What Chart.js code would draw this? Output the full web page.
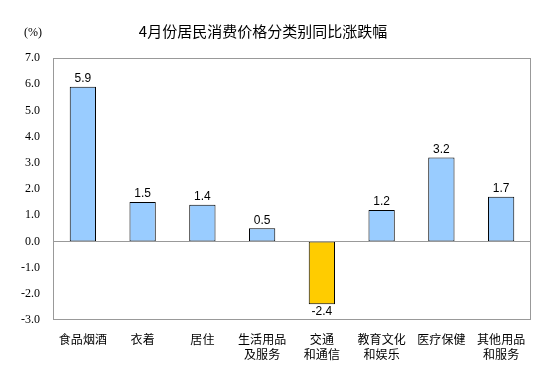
<!DOCTYPE html>
<html lang="zh">
<head>
    <meta charset="UTF-8">
    <title>4月份居民消费价格分类别同比涨跌幅</title>
    <script src="https://cdn.jsdelivr.net/npm/chart.js"></script>
    <style>
        html, body { margin: 0; padding: 0; background: #fff; }
        #wrap { width: 553px; height: 384px; position: relative; }
    </style>
</head>
<body>
    <div id="wrap"><canvas id="cpiChart"></canvas></div>

    <script>
        // Chart data
        const categories = [
            '食品烟酒', '衣着', '居住', ['生活用品', '及服务'],
            ['交通', '和通信'], ['教育文化', '和娱乐'], '医疗保健', ['其他用品', '和服务']
        ];
        const changes = [5.9, 1.5, 1.4, 0.5, -2.4, 1.2, 3.2, 1.7];
        const yTicks = [-3, -2, -1, 0, 1, 2, 3, 4, 5, 6, 7];

        const chartTitle = '4月份居民消费价格分类别同比涨跌幅';
        const unitLabel = '(%)';

        const cjkFont = '"Noto Sans CJK SC", "Noto Sans", sans-serif';
        const axisGray = '#999999';

        // title, unit, frame and value labels
        const decorations = {
            id: 'decorations',
            afterDatasetsDraw(chart) {
                const ctx = chart.ctx;
                const area = chart.chartArea;
                const yScale = chart.scales.y;
                ctx.save();

                ctx.strokeStyle = axisGray;
                ctx.lineWidth = 1;
                ctx.strokeRect(area.left + 0.5, area.top + 0.5, area.right - area.left - 1, area.bottom - area.top - 1);

                const zeroY = Math.round(yScale.getPixelForValue(0)) + 0.5;
                ctx.beginPath();
                ctx.moveTo(area.left, zeroY);
                ctx.lineTo(area.right, zeroY);
                ctx.stroke();

                ctx.fillStyle = '#000';
                ctx.font = '15px ' + cjkFont;
                ctx.textAlign = 'center';
                ctx.textBaseline = 'middle';
                ctx.fillText(chartTitle, 263, 31);

                ctx.font = '12px "Liberation Serif", serif';
                ctx.textAlign = 'left';
                ctx.fillText(unitLabel, 24, 33);

                ctx.font = '12px "Liberation Sans", Arial, sans-serif';
                ctx.textAlign = 'center';
                const meta = chart.getDatasetMeta(0);
                meta.data.forEach((bar, i) => {
                    const v = changes[i];
                    if (v >= 0) {
                        ctx.textBaseline = 'bottom';
                        ctx.fillText(v.toFixed(1), bar.x, bar.y - 2);
                    } else {
                        ctx.textBaseline = 'top';
                        ctx.fillText(v.toFixed(1), bar.x, bar.y + 1);
                    }
                });
                ctx.restore();
            }
        };

        new Chart(document.getElementById('cpiChart'), {
            type: 'bar',
            data: {
                labels: categories,
                datasets: [{
                    data: changes,
                    backgroundColor: changes.map(v => v < 0 ? '#FFCC00' : '#99CCFF'),
                    borderColor: '#000000',
                    borderWidth: 1,
                    borderSkipped: false,
                    categoryPercentage: 1.0,
                    barPercentage: 0.44
                }]
            },
            options: {
                responsive: true,
                maintainAspectRatio: false,
                animation: false,
                layout: { padding: { left: 0, right: 22, top: 58, bottom: 0 } },
                plugins: {
                    legend: { display: false },
                    title: { display: false },
                    tooltip: { enabled: false }
                },
                scales: {
                    x: {
                        grid: { display: false, drawTicks: false },
                        border: { display: false },
                        ticks: {
                            color: '#000',
                            font: { family: cjkFont, size: 12, lineHeight: 1.25 },
                            padding: 12,
                            maxRotation: 0,
                            autoSkip: false
                        },
                        afterFit(scale) { scale.height = 64; }
                    },
                    y: {
                        min: yTicks[0],
                        max: yTicks[yTicks.length - 1],
                        grid: { display: false, drawTicks: false },
                        border: { display: false },
                        afterBuildTicks(scale) {
                            scale.ticks = yTicks.map(v => ({ value: v }));
                        },
                        ticks: {
                            color: '#000',
                            font: { family: '"Liberation Serif", serif', size: 12 },
                            padding: 13,
                            callback: v => v.toFixed(1)
                        },
                        afterFit(scale) { scale.width = 53; }
                    }
                }
            },
            plugins: [decorations]
        });
    </script>
</body>
</html>
